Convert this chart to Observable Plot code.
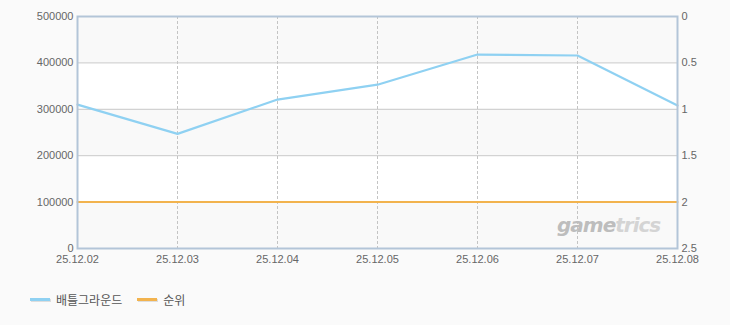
<!DOCTYPE html>
<html><head><meta charset="utf-8">
<script src="https://cdn.jsdelivr.net/npm/d3@7"></script>
<script src="https://cdn.jsdelivr.net/npm/@observablehq/plot@0.6"></script>
<style>
body{margin:0;background:#fafafa;}
#wrap{position:relative;width:730px;height:325px;background:#fafafa;font-family:"Liberation Sans",Arial,sans-serif;}
#chart{position:absolute;left:0;top:0;}
#wm{position:absolute;left:557px;top:213px;font:italic bold 20px "DejaVu Sans",sans-serif;letter-spacing:-1px;}
#legend{position:absolute;left:30px;top:291px;display:flex;align-items:center;font:12px "Noto Sans CJK KR",sans-serif;color:#555;}
.sw{display:inline-block;width:20px;height:3px;margin-right:6px;box-shadow:1px 1px 0 #ddd;}
.lg{display:flex;align-items:center;margin-right:15px;}
</style></head><body><div id="wrap"><div id="chart"></div>
<div id="wm"><span style="color:#bdbdbd">game</span><span style="color:#d4d4d4">trics</span></div>
<div id="legend"></div></div>
<script>
const dates = ["25.12.02","25.12.03","25.12.04","25.12.05","25.12.06","25.12.07","25.12.08"];
const users = [310000, 247000, 321000, 353000, 418000, 416000, 308000];
const ranks = [2, 2, 2, 2, 2, 2, 2];
const leftTicks = [0, 100000, 200000, 300000, 400000, 500000];
const rightTicks = [0, 0.5, 1, 1.5, 2, 2.5];
const seriesNames = ["배틀그라운드", "순위"];
const colors = ["#8fd1f2", "#f2b34e"];

const yMax = 500000, rankMax = 2.5;
const rankToY = r => (rankMax - r) / rankMax * yMax;
const rightLabel = new Map(rightTicks.map(r => [rankToY(r), String(r)]));

const userData = dates.map((d, i) => ({date: d, v: users[i]}));
const rankData = dates.map((d, i) => ({date: d, r: ranks[i]}));
const bands = leftTicks.slice(0, -1).map((t, i) => ({y1: t, y2: leftTicks[i + 1], f: i % 2 === 0 ? "#f9f9f9" : "#ffffff"}));

const chart = Plot.plot({
  width: 730, height: 275,
  marginLeft: 77, marginRight: 53, marginTop: 16, marginBottom: 27,
  style: {background: "transparent", fontFamily: "Liberation Sans, Arial, sans-serif", fontSize: "11px", color: "#666"},
  x: {type: "point", domain: dates, padding: 0, label: null},
  y: {domain: [0, yMax], label: null},
  marks: [
    Plot.rect(bands, {y1: "y1", y2: "y2", fill: "f"}),
    Plot.ruleY(leftTicks.slice(1, -1), {stroke: "#c9c9c9"}),
    Plot.ruleX(dates.slice(1, -1), {stroke: "#c4c4c4", strokeDasharray: "3,2"}),
    Plot.line(rankData, {x: "date", y: d => rankToY(d.r), stroke: colors[1], strokeWidth: 2}),
    Plot.line(userData, {x: "date", y: "v", stroke: colors[0], strokeWidth: 2.2}),
    Plot.frame({stroke: "#b3c5d8", strokeWidth: 2}),
    Plot.axisY(leftTicks, {anchor: "left", tickSize: 0, tickPadding: 4, fill: "#666", label: null, tickFormat: d => String(d)}),
    Plot.axisY(rightTicks.map(rankToY), {anchor: "right", tickSize: 0, tickPadding: 4, fill: "#666", label: null, tickFormat: v => rightLabel.get(v)}),
    Plot.axisX(dates, {tickSize: 0, tickPadding: 7, fill: "#666", label: null})
  ]
});
document.getElementById("chart").appendChild(chart);

const legend = document.getElementById("legend");
seriesNames.forEach((n, i) => {
  const item = document.createElement("div");
  item.className = "lg";
  item.innerHTML = `<span class="sw" style="background:${colors[i]}"></span><span>${n}</span>`;
  legend.appendChild(item);
});
</script></body></html>
